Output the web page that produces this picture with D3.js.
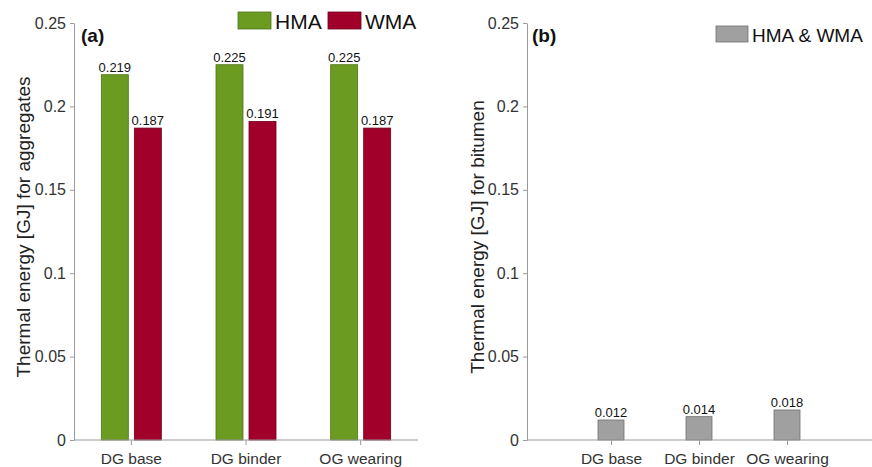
<!DOCTYPE html>
<html><head><meta charset="utf-8">
<script src="https://cdn.jsdelivr.net/npm/d3@7"></script>
<style>body{margin:0;background:#fff}svg{display:block;font-family:"Liberation Sans",Arial,Helvetica,sans-serif}</style>
</head><body>
<svg id="c" width="872" height="467"></svg>
<script>
const categories = ["DG base", "DG binder", "OG wearing"];
const hmaValues = [0.219, 0.225, 0.225];
const wmaValues = [0.187, 0.191, 0.187];
const bitumenValues = [0.012, 0.014, 0.018];
const yTicks = [0, 0.05, 0.1, 0.15, 0.2, 0.25];
const seriesNames = ["HMA", "WMA"];
const bitumenName = "HMA & WMA";

const colors = {HMA: "#6c9b21", WMA: "#a00029", gray: "#a0a0a0"};
const strokes = {HMA: "#4e7418", WMA: "#6e001c", gray: "#707070"};
const svg = d3.select("#c");
const axisColor = "#9a9a9a", textColor = "#333";
const FF = "'Liberation Sans', Arial, sans-serif";
const fmt = d => d === 0 ? "0" : String(+d.toFixed(2));

function yAxis(g, y, x0) {
  const ax = g.append("g").attr("transform", `translate(${x0},0)`)
    .call(d3.axisLeft(y).tickValues(yTicks).tickFormat(fmt).tickSize(4).tickSizeOuter(0));
  ax.select(".domain").attr("stroke", axisColor);
  ax.selectAll(".tick line").attr("stroke", axisColor);
  ax.selectAll(".tick text").attr("fill", textColor).attr("font-size", 16).attr("x", -8).attr("font-family", FF);
}
function xAxis(g, x, y0, x1, x2) {
  const ax = g.append("g").attr("transform", `translate(0,${y0})`)
    .call(d3.axisBottom(x).tickSize(5).tickSizeOuter(0));
  ax.select(".domain").remove();
  ax.append("line").attr("x1", x1).attr("x2", x2).attr("stroke", axisColor);
  ax.selectAll(".tick line").attr("stroke", axisColor);
  ax.selectAll(".tick text").attr("fill", textColor).attr("font-size", 15.5).attr("y", 13).attr("font-family", FF);
}

// Panel (a)
const y = d3.scaleLinear().domain([0, 0.25]).range([440, 23]);
const xa = d3.scaleBand().domain(categories).range([74, 418]).padding(0);
const ga = svg.append("g");
const barW = 27, gap = 3;
const dataA = [];
categories.forEach((c, i) => {
  dataA.push({c, s: "HMA", v: hmaValues[i], off: -gap - barW});
  dataA.push({c, s: "WMA", v: wmaValues[i], off: gap});
});
ga.selectAll("rect.bar").data(dataA).join("rect")
  .attr("x", d => xa(d.c) + xa.bandwidth() / 2 + d.off)
  .attr("y", d => y(d.v)).attr("width", barW).attr("height", d => y(0) - y(d.v))
  .attr("fill", d => colors[d.s]).attr("stroke", d => strokes[d.s]).attr("stroke-width", 0.8);
ga.selectAll("text.val").data(dataA).join("text")
  .attr("x", d => xa(d.c) + xa.bandwidth() / 2 + d.off + barW / 2)
  .attr("y", d => y(d.v) - 3).attr("text-anchor", "middle").attr("font-size", 13).attr("fill", "#111")
  .text(d => d.v.toFixed(3));
yAxis(ga, y, 74);
xAxis(ga, xa, 440, 74, 418);
ga.append("text").attr("transform", "translate(30,227) rotate(-90)").attr("text-anchor", "middle")
  .attr("font-size", 19).attr("fill", "#222").text("Thermal energy [GJ] for aggregates");
ga.append("text").attr("x", 81).attr("y", 42).attr("font-size", 19).attr("font-weight", "bold").attr("fill", "#111").text("(a)");
// legend a
const legX = [238, 328];
seriesNames.forEach((s, i) => {
  ga.append("rect").attr("x", legX[i]).attr("y", 12).attr("width", 33).attr("height", 17)
    .attr("fill", colors[s]).attr("stroke", strokes[s]).attr("stroke-width", 0.8);
  ga.append("text").attr("x", legX[i] + 37).attr("y", 28.5).attr("font-size", 21).attr("fill", "#111").text(s);
});

// Panel (b)
const xb = d3.scalePoint().domain(categories).range([523, 875]).padding(1);
const gb = svg.append("g");
const bw = 26;
gb.selectAll("rect.bar").data(bitumenValues).join("rect")
  .attr("x", (d, i) => xb(categories[i]) - bw / 2).attr("y", d => y(d))
  .attr("width", bw).attr("height", d => y(0) - y(d))
  .attr("fill", colors.gray).attr("stroke", strokes.gray).attr("stroke-width", 0.8);
gb.selectAll("text.val").data(bitumenValues).join("text")
  .attr("x", (d, i) => xb(categories[i])).attr("y", d => y(d) - 3)
  .attr("text-anchor", "middle").attr("font-size", 13).attr("fill", "#111").text(d => d.toFixed(3));
yAxis(gb, y, 527);
xAxis(gb, xb, 440, 527, 872);
gb.append("text").attr("transform", "translate(484,237) rotate(-90)").attr("text-anchor", "middle")
  .attr("font-size", 19).attr("fill", "#222").text("Thermal energy [GJ] for bitumen");
gb.append("text").attr("x", 532).attr("y", 42).attr("font-size", 19).attr("font-weight", "bold").attr("fill", "#111").text("(b)");
gb.append("rect").attr("x", 716).attr("y", 26).attr("width", 32).attr("height", 16)
  .attr("fill", colors.gray).attr("stroke", strokes.gray).attr("stroke-width", 0.8);
gb.append("text").attr("x", 752).attr("y", 42).attr("font-size", 19).attr("fill", "#111").text(bitumenName);
</script>
</body></html>
